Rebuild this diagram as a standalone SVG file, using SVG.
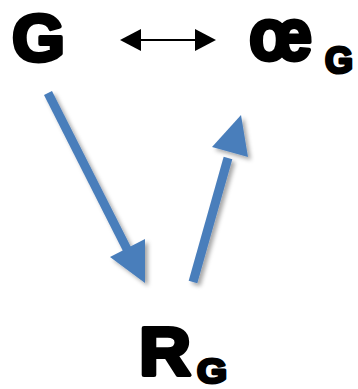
<svg xmlns="http://www.w3.org/2000/svg" width="358" height="389" viewBox="0 0 358 389">
<defs>
<style>
.lbl{font-family:"Liberation Sans",Arial,sans-serif;font-weight:bold;fill:#000;stroke:#000;stroke-linejoin:round}
.big{stroke-width:4}
.sub{stroke-width:3}
.blue{fill:#4a7ebb;stroke:none}
</style>
<filter id="sh" x="-20%" y="-20%" width="150%" height="150%">
<feDropShadow dx="3" dy="3" stdDeviation="2" flood-color="#000" flood-opacity="0.35"/>
</filter>
</defs>
<rect width="358" height="389" fill="#fff"/>
<g id="node-G">
<text class="lbl big" x="12" y="61" font-size="67" textLength="53" lengthAdjust="spacingAndGlyphs">G</text>
</g>
<g id="node-oeG">
<text class="lbl big" x="249" y="60" font-size="74" textLength="63" lengthAdjust="spacingAndGlyphs">œ</text>
<text class="lbl sub" x="325" y="73" font-size="36" textLength="28" lengthAdjust="spacingAndGlyphs">G</text>
</g>
<g id="node-RG">
<text class="lbl big" x="139" y="375" font-size="68" textLength="52" lengthAdjust="spacingAndGlyphs">R</text>
<text class="lbl sub" x="197" y="383" font-size="35" textLength="30" lengthAdjust="spacingAndGlyphs">G</text>
</g>
<g id="connectors">
<line x1="130" y1="40" x2="206" y2="40" stroke="#000" stroke-width="2"/>
<path d="M120,40 L141,29 L141,51 Z" fill="#000"/>
<path d="M216,40 L195,29 L195,51 Z" fill="#000"/>
<g filter="url(#sh)">
<line x1="48" y1="93" x2="130" y2="255" stroke="#4a7ebb" stroke-width="9"/>
<path class="blue" d="M110,257 L145,239 L145,283 Z"/>
<line x1="193" y1="282" x2="228" y2="158" stroke="#4a7ebb" stroke-width="9"/>
<path class="blue" d="M212,147 L248,157 L241,115 Z"/>
</g>
</g>
</svg>
